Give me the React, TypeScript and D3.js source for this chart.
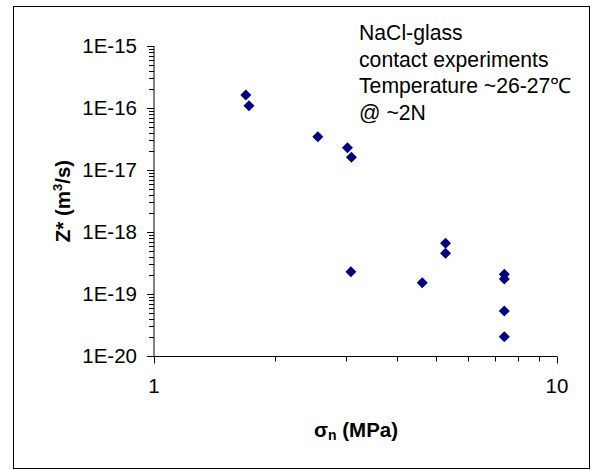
import React from "react";
import * as d3 from "d3";

// Normal stress (MPa) and compaction rate Z* (m^3/s) for each contact run
const sigmaN: number[] = [1.69, 1.72, 2.55, 3.02, 3.09, 3.08, 4.63, 5.29, 5.29, 7.4, 7.4, 7.4, 7.4];
const zStar: number[] = [
  1.62e-16, 1.09e-16, 3.44e-17, 2.29e-17, 1.6e-17, 2.29e-19, 1.52e-19, 6.58e-19, 4.53e-19,
  2.08e-19, 1.75e-19, 5.32e-20, 2.05e-20,
];

const yTickValues: number[] = [1e-15, 1e-16, 1e-17, 1e-18, 1e-19, 1e-20];
const yTickLabels: string[] = ["1E-15", "1E-16", "1E-17", "1E-18", "1E-19", "1E-20"];
const xTickValues: number[] = [1, 10];
const xTickLabels: string[] = ["1", "10"];

const noteLines: string[] = ["NaCl-glass", "contact experiments", "Temperature ~26-27\u2103", "@ ~2N"];

const W = 595;
const H = 470;
const FONT = "'Liberation Sans', Arial, Helvetica, sans-serif";

export default function App() {
  const x = d3.scaleLog().domain([1, 10]).range([154, 557]);
  const y = d3.scaleLog().domain([1e-20, 1e-15]).range([356, 46]);

  // minor ticks: 2..9 within each decade
  const yMinor: number[] = [];
  for (let e = -20; e < -15; e++) {
    for (let m = 2; m <= 9; m++) yMinor.push(m * Math.pow(10, e));
  }
  const xMinor: number[] = [];
  for (let m = 2; m <= 9; m++) xMinor.push(m);

  const r = 5.5;
  const diamond = (cx: number, cy: number) =>
    `M${cx},${cy - r}L${cx + r},${cy}L${cx},${cy + r}L${cx - r},${cy}Z`;

  const x0 = x(1);
  const yBase = Math.round(y(1e-20)) + 0.5;

  return (
    <svg
      width={W}
      height={H}
      style={{ position: "absolute", left: 0, top: 0, display: "block" }}
      fontFamily={FONT}
    >
      <rect x={0} y={0} width={W} height={H} fill="#fff" />
      <rect x={13.5} y={6.5} width={576} height={462} fill="#fff" stroke="#000" strokeWidth={1} />

      {/* y axis */}
      <line x1={x0} x2={x0} y1={y(1e-15)} y2={y(1e-20)} stroke="#000" strokeWidth={1} />
      {yMinor.map((v, i) => (
        <line key={"ym" + i} x1={x0 - 5} x2={x0} y1={Math.round(y(v)) + 0.5} y2={Math.round(y(v)) + 0.5} stroke="#000" strokeWidth={1} />
      ))}
      {yTickValues.map((v, i) => (
        <g key={"yt" + i}>
          <line x1={x0 - 7} x2={x0} y1={Math.round(y(v)) + 0.5} y2={Math.round(y(v)) + 0.5} stroke="#000" strokeWidth={1} />
          <text x={137} y={y(v)} dy="0.36em" textAnchor="end" fontSize={20.5} fill="#000">
            {yTickLabels[i]}
          </text>
        </g>
      ))}

      {/* x axis */}
      <line x1={x0} x2={x(10)} y1={yBase} y2={yBase} stroke="#000" strokeWidth={1} />
      {xMinor.map((v, i) => (
        <line key={"xm" + i} x1={Math.round(x(v)) + 0.5} x2={Math.round(x(v)) + 0.5} y1={yBase} y2={yBase + 5} stroke="#000" strokeWidth={1} />
      ))}
      {xTickValues.map((v, i) => (
        <g key={"xt" + i}>
          <line x1={Math.round(x(v)) + 0.5} x2={Math.round(x(v)) + 0.5} y1={yBase} y2={yBase + 7} stroke="#000" strokeWidth={1} />
          <text x={x(v)} y={393} textAnchor="middle" fontSize={20.5} fill="#000">
            {xTickLabels[i]}
          </text>
        </g>
      ))}

      {/* axis titles */}
      <text x={356} y={437} textAnchor="middle" fontSize={20.5} fontWeight="bold" fill="#000">
        {"\u03c3"}
        <tspan fontSize={14} dy={3}>n</tspan>
        <tspan dy={-3}> (MPa)</tspan>
      </text>
      <text
        transform={`translate(70,${(y(1e-15) + y(1e-20)) / 2}) rotate(-90)`}
        textAnchor="middle"
        fontSize={20.5}
        fontWeight="bold"
        fill="#000"
      >
        Z* (m<tspan fontSize={13} dy={-8}>3</tspan>
        <tspan dy={8}>/s)</tspan>
      </text>

      {/* annotation */}
      {noteLines.map((t, i) => (
        <text key={"n" + i} x={359} y={40 + i * 26.7} fontSize={21.2} fill="#000">
          {t}
        </text>
      ))}

      {/* data */}
      {sigmaN.map((s, i) => (
        <path key={"p" + i} d={diamond(x(s), y(zStar[i]))} fill="#000080" />
      ))}
    </svg>
  );
}
